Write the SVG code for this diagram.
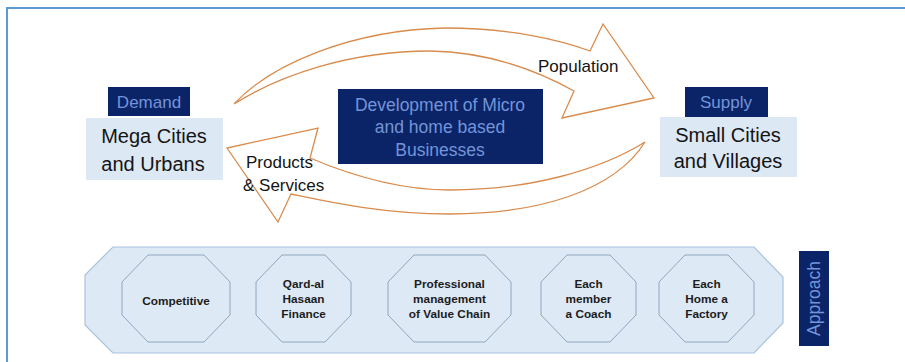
<svg xmlns="http://www.w3.org/2000/svg" width="905" height="362" viewBox="0 0 905 362">
<style>
.navy{fill:#0b2467}
.navytxt{font-family:"Liberation Sans",Arial,sans-serif;fill:#7394d9;text-anchor:middle}
.city{fill:#dce8f4}
.citytxt{font-family:"Liberation Sans",Arial,sans-serif;font-size:20px;fill:#141414;text-anchor:middle}
.lbl{font-family:"Liberation Sans",Arial,sans-serif;font-size:17px;fill:#141414}
.arrow{fill:#ffffff;stroke:#d98b4c;stroke-width:1.3;stroke-linejoin:miter}
.band{fill:#dde9f5;stroke:#a9c3de;stroke-width:1.2}
.oct{fill:#dde9f5;stroke:#8fa6bf;stroke-width:1}
.octtxt{font-family:"Liberation Sans",Arial,sans-serif;font-size:11.8px;font-weight:bold;fill:#1c1c1c;text-anchor:middle}
</style>
<rect width="905" height="362" fill="#ffffff"/>
<path d="M7,362 V8 H905" fill="none" stroke="#5b9bd5" stroke-width="2"/>

<g id="connectors">
  <path class="arrow" d="M234,104 C270,65 350,30 445,28 C510,28 560,40 590,51 L603,24 L654,98 L562,118 L574,91 C540,72 490,52 430,51 C350,51 280,75 234,104 Z"/>
  <path class="arrow" d="M645,142 C615,190 540,214 450,214 C380,214 320,200 291,194 L278,222 L227,148 L318,128 L310,158 C350,175 400,190 450,190 C530,190 600,170 645,142 Z"/>
  <text class="lbl" x="538" y="72">Population</text>
  <text class="lbl" x="246" y="168">Products</text>
  <text class="lbl" x="243" y="191">&amp; Services</text>
</g>

<g id="demand">
  <rect class="navy" x="108" y="87" width="82" height="29"/>
  <text class="navytxt" x="149" y="108" font-size="17">Demand</text>
</g>
<g id="mega-cities">
  <rect class="city" x="86" y="118" width="137" height="62"/>
  <text class="citytxt" x="154" y="143">Mega Cities</text>
  <text class="citytxt" x="153" y="171">and Urbans</text>
</g>
<g id="supply">
  <rect class="navy" x="685" y="87" width="83" height="30"/>
  <text class="navytxt" x="726" y="108" font-size="17">Supply</text>
</g>
<g id="small-cities">
  <rect class="city" x="660" y="117" width="137" height="60"/>
  <text class="citytxt" x="728" y="142">Small Cities</text>
  <text class="citytxt" x="728" y="168">and Villages</text>
</g>
<g id="development">
  <rect class="navy" x="338" y="89" width="205" height="75"/>
  <text class="navytxt" x="440" y="110.5" font-size="17.5">Development of Micro</text>
  <text class="navytxt" x="440" y="133" font-size="17.5">and home based</text>
  <text class="navytxt" x="440" y="155.5" font-size="17.5">Businesses</text>
</g>

<g id="approach-band">
  <polygon class="band" points="113,247 754,247 783,277 783,323 754,353 113,353 85,325 85,275"/>
</g>
<g id="competitive">
  <polygon class="oct" points="148,255 204,255 230,282 230,315 204,342 148,342 122,315 122,282"/>
  <text class="octtxt" x="176" y="305">Competitive</text>
</g>
<g id="qard-al-hasaan">
  <polygon class="oct" points="282,255 325,255 351,282 351,315 325,342 282,342 256,315 256,282"/>
  <text class="octtxt" x="303.5" y="287.5">Qard-al</text>
  <text class="octtxt" x="303.5" y="302.5">Hasaan</text>
  <text class="octtxt" x="303.5" y="317.5">Finance</text>
</g>
<g id="professional-management">
  <polygon class="oct" points="414,255 485,255 511,282 511,315 485,342 414,342 388,315 388,282"/>
  <text class="octtxt" x="449.5" y="287.5">Professional</text>
  <text class="octtxt" x="449.5" y="302.5">management</text>
  <text class="octtxt" x="449.5" y="317.5">of Value Chain</text>
</g>
<g id="each-member-coach">
  <polygon class="oct" points="567,255 610,255 636,282 636,315 610,342 567,342 541,315 541,282"/>
  <text class="octtxt" x="588.5" y="287.5">Each</text>
  <text class="octtxt" x="588.5" y="302.5">member</text>
  <text class="octtxt" x="588.5" y="317.5">a Coach</text>
</g>
<g id="each-home-factory">
  <polygon class="oct" points="685,255 728,255 754,282 754,315 728,342 685,342 659,315 659,282"/>
  <text class="octtxt" x="706.5" y="287.5">Each</text>
  <text class="octtxt" x="706.5" y="302.5">Home a</text>
  <text class="octtxt" x="706.5" y="317.5">Factory</text>
</g>
<g id="approach">
  <rect class="navy" x="799" y="251" width="30" height="95"/>
  <text class="navytxt" transform="translate(820,298.5) rotate(-90)" font-size="17.5">Approach</text>
</g>
</svg>
